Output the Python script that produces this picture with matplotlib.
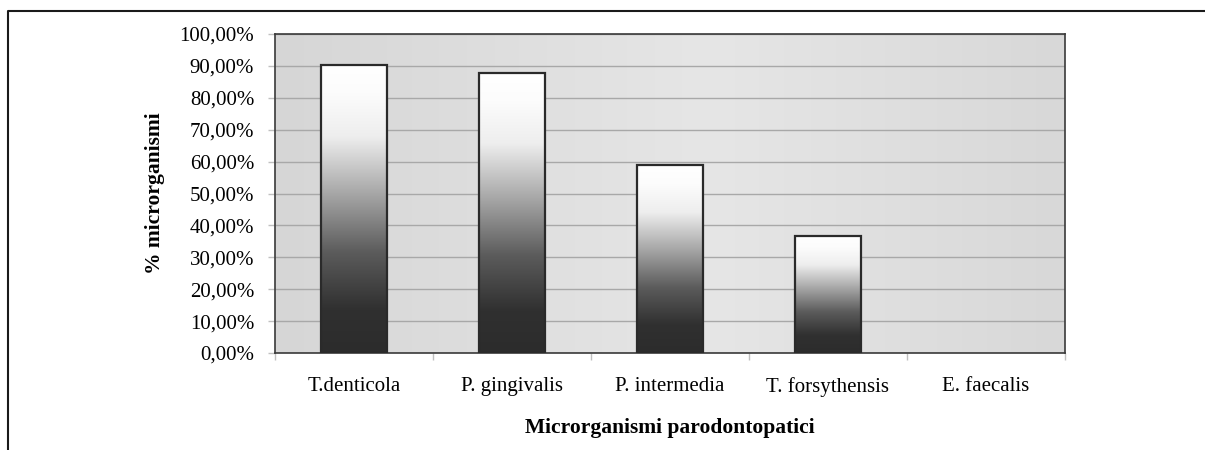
import numpy as np
import matplotlib
matplotlib.use("Agg")
import matplotlib.pyplot as plt
from matplotlib.colors import LinearSegmentedColormap
from matplotlib.lines import Line2D
from matplotlib.ticker import FuncFormatter

# data
categories = ["T.denticola", "P. gingivalis", "P. intermedia", "T. forsythensis", "E. faecalis"]
percent = [90.3, 87.7, 58.8, 36.8, 0.0]
y_ticks = [0, 10, 20, 30, 40, 50, 60, 70, 80, 90, 100]

plt.rcParams['font.family'] = ['Liberation Serif', 'DejaVu Serif']

bar_cmap = LinearSegmentedColormap.from_list(
    "bar", [(0.0, "#2c2c2c"), (0.15, "#303030"), (0.35, "#5c5c5c"),
            (0.55, "#a6a6a6"), (0.75, "#eeeeee"), (0.9, "#fcfcfc"), (1.0, "#ffffff")])
bg_cmap = LinearSegmentedColormap.from_list(
    "bg", [(0.0, "#d6d6d6"), (0.55, "#e6e6e6"), (1.0, "#d8d8d8")])

fig = plt.figure(figsize=(12.05, 4.5), dpi=100)
ax = fig.add_axes([275 / 1205, 1 - 353 / 450, 790 / 1205, 319 / 450])

x = np.arange(len(categories))

# background gradient
bg = np.linspace(0, 1, 256).reshape(1, -1)
ax.imshow(bg, cmap=bg_cmap, extent=[0, 1, 0, 1], transform=ax.transAxes,
          aspect='auto', zorder=0, interpolation='bicubic')

ax.set_yticks(y_ticks)
ax.yaxis.grid(True, color="#a8a8a8", linewidth=1.0, zorder=1)
ax.set_axisbelow(True)

bars = ax.bar(x, percent, width=0.42, facecolor='none', edgecolor='#2a2a2a',
              linewidth=1.6, zorder=3)
grad = np.linspace(0, 1, 256).reshape(-1, 1)
for b in bars:
    h = b.get_height()
    if h <= 0:
        b.set_edgecolor('none')
        continue
    im = ax.imshow(grad, cmap=bar_cmap, origin='lower',
                   extent=[b.get_x(), b.get_x() + b.get_width(), 0, h],
                   aspect='auto', zorder=2, interpolation='bicubic')
    im.set_clip_path(b)
ax.set_xlim(-0.5, len(categories) - 0.5)
ax.set_ylim(0, 100)

ax.set_xticks(x)
ax.set_xticklabels(categories)
ax.set_xticks(np.arange(-0.5, len(categories)), minor=True)
ax.tick_params(axis='x', which='major', length=0, pad=17, labelsize=15)
ax.tick_params(axis='x', which='minor', length=5, color='#c0c0c0', width=1)
ax.tick_params(axis='y', length=5, color='#c0c0c0', width=1, pad=10, labelsize=15)
ax.yaxis.set_major_formatter(FuncFormatter(lambda v, p: f"{v:.2f}%".replace('.', ',')))

for s in ax.spines.values():
    s.set_color('#3a3a3a')
    s.set_linewidth(1.2)

ax.set_ylabel("% microrganismi", fontsize=15.5, fontweight='bold', va='center')
ax.yaxis.set_label_coords(-0.152, 0.5)
ax.set_xlabel("Microrganismi parodontopatici", fontsize=15.5, fontweight='bold', va='center')
ax.xaxis.set_label_coords(0.5, -0.235)

# outer frame (left and top edges visible)
fx = 8 / 1205
fy = 1 - 11 / 450
fig.add_artist(Line2D([fx, fx, 1.0], [0.0, fy, fy], color='#1a1a1a', linewidth=1.5,
                      transform=fig.transFigure))

fig.savefig("out.png", dpi=100)
